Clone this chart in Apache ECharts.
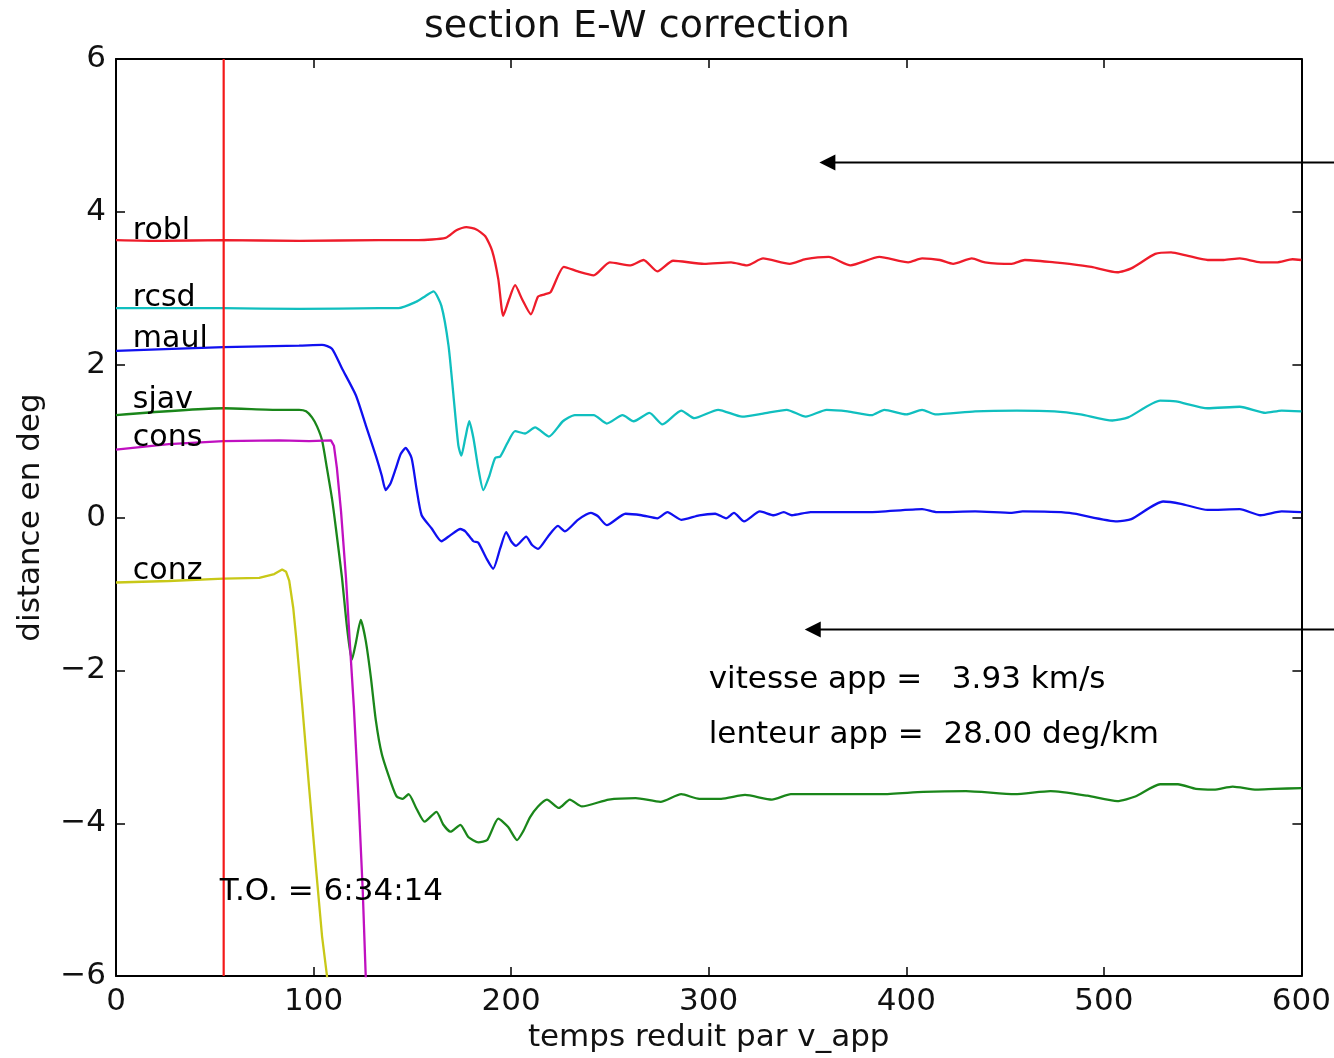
<!DOCTYPE html>
<html>
<head>
<meta charset="utf-8">
<script src="https://cdn.jsdelivr.net/npm/echarts@6/dist/echarts.min.js"></script>
<style>
html,body{margin:0;padding:0;background:#fff;}
#c{width:1334px;height:1058px;}
</style>
</head>
<body>
<div id="c"></div>
<script>
// ---- data (x: temps reduit, y: distance en deg) ----
const xTicks = [0, 100, 200, 300, 400, 500, 600];
const yTicks = [-6, -4, -2, 0, 2, 4, 6];
const stations = ['robl', 'rcsd', 'maul', 'sjav', 'cons', 'conz'];
const stationDist = [3.64, 2.77, 2.23, 1.43, 0.93, -0.81];
const t0 = 54.5;

const robl = [[0,3.63],[22.2,3.62],[54.4,3.63],[92.7,3.62],[133,3.63],[153,3.63],[166.8,3.66],[172.3,3.76],[177.3,3.80],[182.4,3.77],[186.9,3.68],[190.4,3.49],[193.5,3.12],[196,2.64],[199,2.86],[202,3.04],[205.5,2.86],[210,2.66],[213.6,2.89],[217,2.92],[220,2.95],[226.7,3.28],[233.8,3.22],[241.8,3.17],[249.9,3.34],[260.5,3.30],[267,3.37],[274,3.22],[282,3.36],[297.7,3.32],[311.3,3.34],[319.4,3.30],[327.5,3.39],[341,3.32],[349,3.38],[360.7,3.41],[371.8,3.30],[386.4,3.41],[401,3.34],[408,3.39],[417,3.37],[423.7,3.32],[433.2,3.39],[439.8,3.34],[453.4,3.32],[460,3.37],[475,3.34],[482.6,3.32],[493.7,3.28],[506.8,3.21],[513.9,3.26],[526,3.45],[534,3.47],[541.6,3.43],[552.6,3.37],[560.7,3.37],[568.8,3.39],[579.3,3.34],[587.4,3.34],[595.5,3.38],[600,3.37]];

const rcsd = [[0,2.74],[54.4,2.74],[92.7,2.73],[133,2.74],[143,2.74],[151.6,2.82],[156.7,2.90],[160.7,2.96],[164.7,2.77],[168.3,2.25],[170.8,1.60],[173.3,0.94],[174.8,0.81],[176.8,1.04],[178.8,1.26],[180.9,1.04],[183.4,0.64],[185.9,0.36],[188.9,0.54],[191.9,0.78],[194.5,0.80],[198,0.97],[202,1.13],[207,1.10],[212.1,1.18],[219.1,1.06],[226.2,1.26],[232.2,1.34],[241.8,1.34],[248.4,1.23],[256.4,1.34],[262,1.26],[270,1.37],[276.6,1.22],[286.1,1.40],[292.7,1.30],[304.8,1.41],[316.9,1.32],[327.5,1.36],[339.5,1.41],[349.1,1.32],[359.7,1.41],[370.3,1.39],[382.4,1.34],[388.9,1.41],[400,1.35],[408,1.41],[414.6,1.35],[434.8,1.39],[455.9,1.40],[475,1.39],[488.2,1.35],[504.3,1.27],[512.3,1.31],[528.5,1.53],[536.5,1.52],[552.6,1.43],[568.8,1.45],[581.9,1.37],[590,1.40],[600,1.39]];

const maul = [[0,2.18],[54.4,2.23],[92.7,2.25],[104.3,2.26],[109.3,2.21],[114.4,1.95],[121.4,1.60],[126.4,1.21],[131.5,0.81],[134.5,0.55],[136.5,0.36],[139,0.45],[141.6,0.64],[144.1,0.83],[146.6,0.91],[149.6,0.78],[152.1,0.38],[154.7,0.03],[159.7,-0.14],[164.7,-0.31],[169.3,-0.23],[174.3,-0.15],[176.8,-0.18],[180.9,-0.31],[183.4,-0.33],[187.4,-0.53],[190.9,-0.67],[194.5,-0.40],[197.5,-0.19],[200,-0.31],[202.5,-0.37],[207.6,-0.25],[210.6,-0.36],[213.6,-0.41],[218.6,-0.25],[223.7,-0.11],[227.2,-0.18],[233.8,-0.03],[240.3,0.06],[243.8,0.02],[248.4,-0.10],[257.9,0.05],[266,0.03],[274,-0.01],[279.1,0.07],[286.1,-0.03],[295.2,0.03],[303.3,0.05],[308.8,-0.01],[312.8,0.06],[317.9,-0.05],[325.9,0.08],[333,0.03],[338,0.07],[342.1,0.03],[351.6,0.07],[380.9,0.07],[408,0.11],[415.6,0.07],[434.8,0.08],[453.4,0.06],[458.9,0.08],[482.6,0.06],[506.8,-0.05],[513.9,-0.02],[530,0.21],[539,0.18],[552.6,0.10],[568.8,0.11],[579.3,0.03],[590,0.08],[600,0.07]];

const sjav = [[0,1.34],[54.4,1.43],[82.6,1.41],[92.7,1.41],[96.2,1.39],[99.2,1.31],[101.8,1.19],[104.3,1.01],[106.8,0.64],[109.3,0.25],[111.3,-0.14],[114.4,-0.79],[116.4,-1.31],[117.9,-1.64],[119.4,-1.86],[121.4,-1.64],[123.9,-1.34],[126.4,-1.61],[129,-2.09],[131.5,-2.65],[134.5,-3.09],[139.5,-3.49],[142.1,-3.65],[145.1,-3.68],[148.1,-3.62],[152.1,-3.81],[156.2,-3.98],[162.2,-3.85],[165.7,-4.02],[169.3,-4.11],[174.3,-4.02],[178.3,-4.18],[183.4,-4.25],[187.9,-4.22],[193.5,-3.94],[198.5,-4.05],[203,-4.22],[206,-4.11],[209.6,-3.92],[213.6,-3.78],[218.1,-3.69],[224.2,-3.80],[229.7,-3.69],[235.8,-3.78],[249.4,-3.69],[263,-3.67],[275.6,-3.72],[286.1,-3.62],[295.2,-3.68],[306.3,-3.68],[318.4,-3.63],[332,-3.69],[341.6,-3.62],[362.7,-3.62],[387.4,-3.62],[408.6,-3.59],[430.2,-3.58],[454.9,-3.62],[473,-3.58],[491.7,-3.64],[506.8,-3.71],[515.9,-3.65],[528.5,-3.49],[537.5,-3.49],[546.6,-3.55],[555.7,-3.56],[565.2,-3.52],[577.3,-3.56],[586.4,-3.55],[600,-3.54]];

const cons = [[0,0.89],[26.7,0.96],[54.4,1.00],[82.6,1.01],[97.7,1.00],[108.8,1.01],[110.3,0.94],[111.8,0.65],[113.9,0.08],[116.4,-0.79],[118.4,-1.66],[120.4,-2.48],[122.9,-3.75],[124.9,-4.89],[126.4,-6.0],[126.8,-6.3]];

const conz = [[0,-0.85],[26.7,-0.83],[54.4,-0.80],[72.5,-0.79],[80.1,-0.74],[84.1,-0.68],[86.1,-0.71],[87.7,-0.83],[89.7,-1.18],[91.2,-1.57],[94.2,-2.44],[97.7,-3.52],[101.3,-4.61],[104.3,-5.48],[106.8,-6.0],[107.2,-6.3]];

const annotations = [
  {text: 'T.O. = 6:34:14', at: [52.5, -5.0]},
  {text: 'vitesse app =   3.93 km/s', at: [300, -2.22]},
  {text: 'lenteur app =  28.00 deg/km', at: [300, -2.94]}
];
const arrowTips = [[356, 4.645], [348.6, -1.466]];
const titleText = 'section E-W correction';
const xName = 'temps reduit par v_app';
const yName = 'distance en deg';

// ---- chart ----
const FONT = 'DejaVu Sans';
const traces = [robl, rcsd, maul, sjav, cons, conz];
const colors = ['#ee1c2a', '#10bfbf', '#1010f0', '#1a861a', '#c010c0', '#c8c818'];

const chart = echarts.init(document.getElementById('c'), null, {renderer: 'canvas'});
const minus = v => String(v).replace('-', '\u2212');

const axisCommon = {
  type: 'value', min: 0, max: 600, interval: 100,
  splitLine: {show: false},
  axisLine: {show: true, onZero: false, lineStyle: {color: '#000', width: 2}},
  axisTick: {show: true, inside: true, length: 9, lineStyle: {color: '#000', width: 1.5}}
};

const series = traces.map((d, i) => ({
  type: 'line', name: stations[i], data: d, xAxisIndex: 0, yAxisIndex: 0,
  showSymbol: false, symbol: 'none', smooth: (i >= 4) ? false : 0.2,
  lineStyle: {color: colors[i], width: 2.3}, clip: true, z: 2
}));

series.push({
  type: 'line', name: 'T0', xAxisIndex: 0, yAxisIndex: 0,
  data: [[t0, -6], [t0, 6]], symbol: 'none',
  lineStyle: {color: '#f41818', width: 2.2}, z: 3
});

chart.setOption({
  animation: false,
  backgroundColor: '#fff',
  textStyle: {fontFamily: FONT},
  title: {text: titleText, left: 419, top: 3,
          textStyle: {fontFamily: FONT, fontSize: 38, fontWeight: 'normal', color: '#111'}},
  grid: {left: 116, right: 24, top: 59, bottom: 75, containLabel: false},
  xAxis: [
    Object.assign({}, axisCommon, {
      position: 'bottom',
      axisLabel: {show: true, margin: 10, color: '#111', fontFamily: FONT, fontSize: 31},
      name: xName, nameLocation: 'middle', nameGap: 44,
      nameTextStyle: {color: '#111', fontFamily: FONT, fontSize: 31}
    }),
    Object.assign({}, axisCommon, {position: 'top', axisLabel: {show: false}})
  ],
  yAxis: [
    Object.assign({}, axisCommon, {
      min: -6, max: 6, interval: 2, position: 'left',
      axisLabel: {show: true, margin: 10, color: '#111', fontFamily: FONT, fontSize: 31, formatter: minus},
      name: yName, nameLocation: 'middle', nameGap: 70,
      nameTextStyle: {color: '#111', fontFamily: FONT, fontSize: 31}
    }),
    Object.assign({}, axisCommon, {min: -6, max: 6, interval: 2, position: 'right', axisLabel: {show: false}})
  ],
  series: series
});

// texts and arrows placed from data coordinates through the chart's scales
const W = chart.getWidth();
const toPx = c => chart.convertToPixel({xAxisIndex: 0, yAxisIndex: 0}, c);
const graphics = [];
stations.forEach((s, i) => {
  const p = toPx([8.5, stationDist[i]]);
  graphics.push({type: 'text', x: p[0], y: p[1] + 7, z: 20,
    style: {text: s, fill: '#000', font: '30px "DejaVu Sans"', textAlign: 'left', textVerticalAlign: 'bottom'}});
});
annotations.forEach(a => {
  const p = toPx(a.at);
  graphics.push({type: 'text', x: p[0], y: p[1] + 8, z: 20,
    style: {text: a.text, fill: '#000', font: '31px "DejaVu Sans"', textAlign: 'left', textVerticalAlign: 'bottom'}});
});
arrowTips.forEach(tip => {
  const p = toPx(tip);
  graphics.push({type: 'line', shape: {x1: p[0] + 10, y1: p[1], x2: W + 5, y2: p[1]},
                 style: {stroke: '#000', lineWidth: 2}, z: 10});
  graphics.push({type: 'polygon', shape: {points: [[p[0], p[1]], [p[0] + 16, p[1] - 8], [p[0] + 16, p[1] + 8]]},
                 style: {fill: '#000'}, z: 10});
});
chart.setOption({graphic: graphics});
</script>
</body>
</html>
